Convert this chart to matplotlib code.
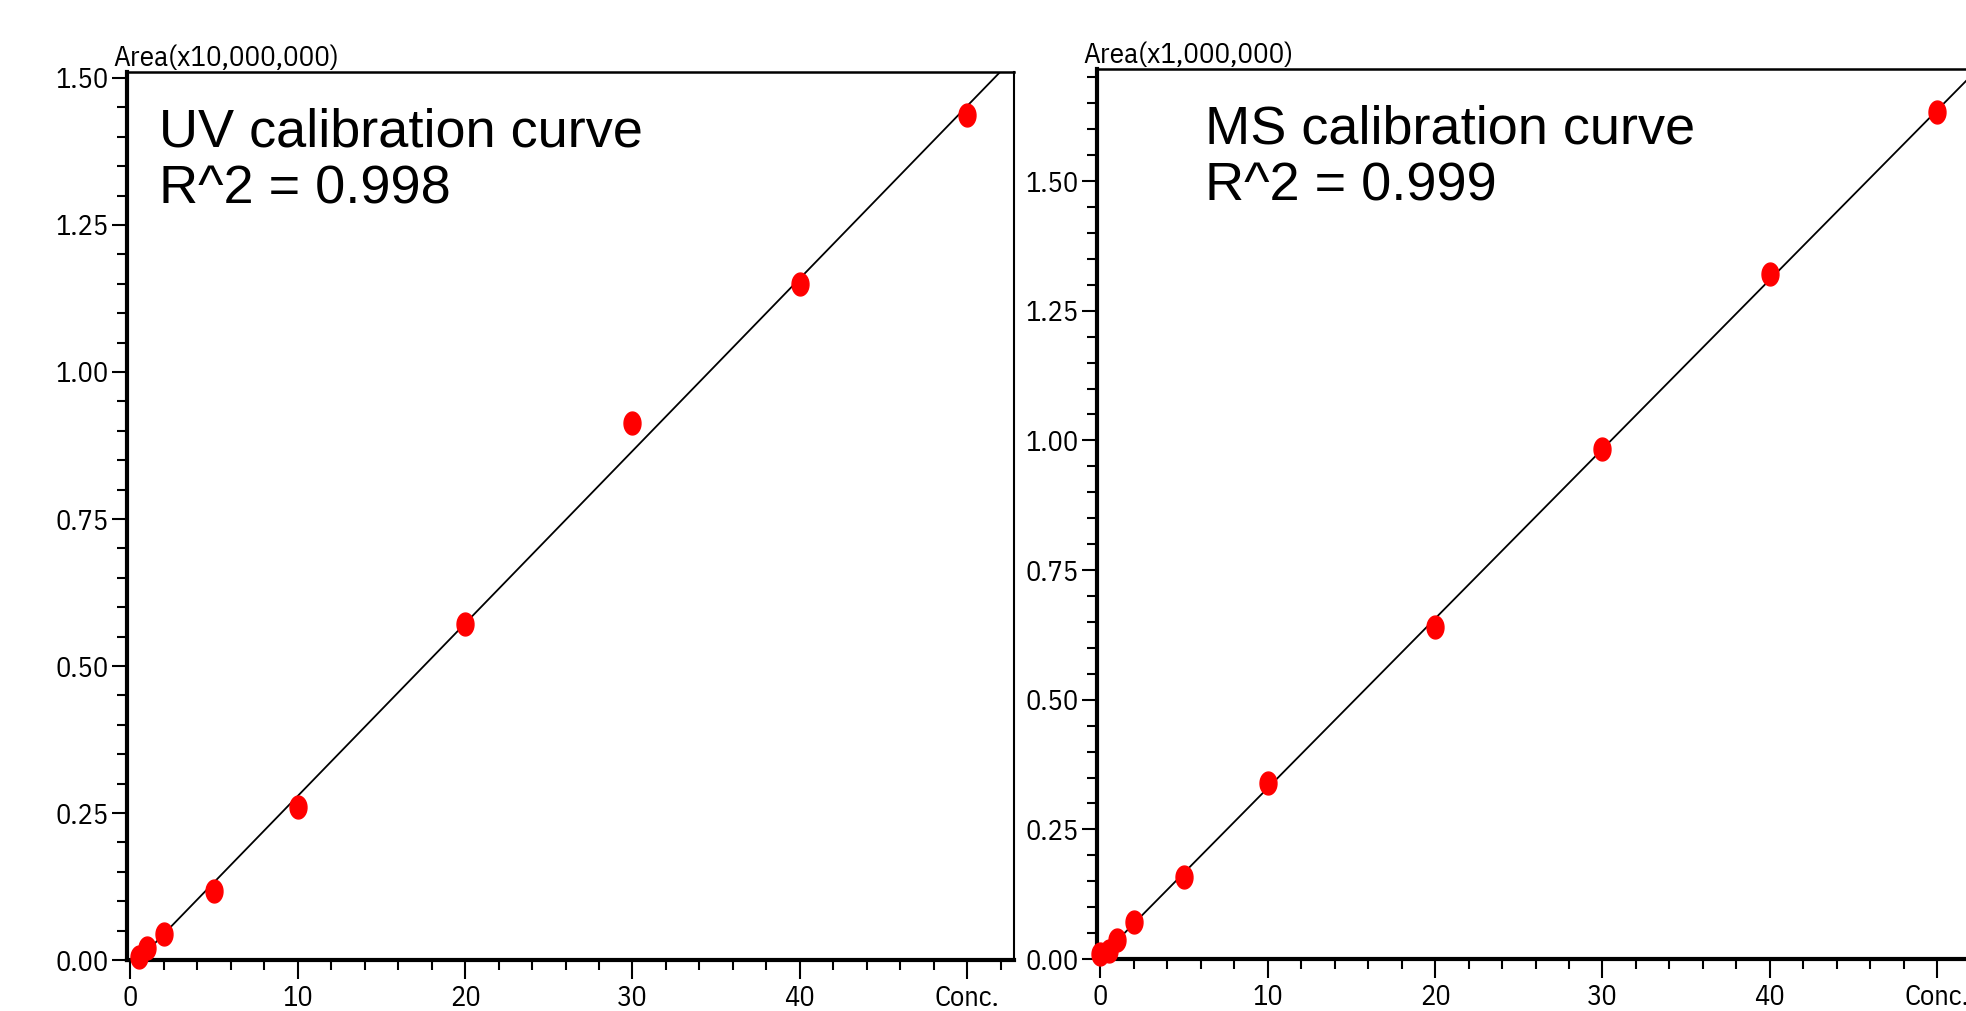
import numpy as np
import matplotlib.pyplot as plt

# Calibration data (Conc. vs peak area)
uv_conc = [0.5, 1, 2, 5, 10, 20, 30, 40, 50]
uv_area = [0.006, 0.020, 0.045, 0.118, 0.260, 0.571, 0.914, 1.149, 1.437]   # x10,000,000
ms_conc = [0, 0.5, 1, 2, 5, 10, 20, 30, 40, 50]
ms_area = [0.010, 0.016, 0.036, 0.071, 0.159, 0.339, 0.640, 0.984, 1.321, 1.633]  # x1,000,000

x_ticks = [0, 10, 20, 30, 40, 50]
x_tick_labels = ['0', '10', '20', '30', '40', 'Conc.']
y_ticks = [0.0, 0.25, 0.5, 0.75, 1.0, 1.25, 1.5]

tick_font = ['IBM Plex Sans Condensed', 'Carlito', 'DejaVu Sans']
big_font = ['Liberation Sans', 'DejaVu Sans']

# elliptical dot, taller than wide
t = np.linspace(0, 2 * np.pi, 60)
dot = np.column_stack([0.74 * np.cos(t), np.sin(t)])

fig = plt.figure(figsize=(19.66, 10.11), dpi=100)


def calib_panel(rect, conc, area, ytop, ylabel):
    ax = fig.add_axes(rect)
    # least-squares fit line
    k, b = np.polyfit(conc, area, 1)
    xs = np.array([0, 56])
    ax.plot(xs, k * xs + b, color='black', lw=1.3, zorder=2)
    ax.plot(conc, area, linestyle='none', marker=dot, markersize=16.5,
            color='#ff0000', mec='#ff0000', zorder=5, clip_on=False)

    ax.set_xlim(-0.2, 52.8)
    ax.set_ylim(0, ytop)
    ax.set_xticks(x_ticks)
    ax.set_xticklabels(x_tick_labels)
    ax.set_xticks(np.arange(0, 53, 2), minor=True)
    ax.set_yticks(y_ticks)
    ax.set_yticklabels([f'{v:.2f}' for v in y_ticks])
    ax.set_yticks(np.arange(0, ytop, 0.05), minor=True)

    for lab in ax.get_xticklabels() + ax.get_yticklabels():
        lab.set_family(tick_font)
        lab.set_fontsize(20.5)
    ax.tick_params(axis='y', which='major', length=11, width=1.5, pad=2)
    ax.tick_params(axis='y', which='minor', length=7, width=1.5)
    ax.tick_params(axis='x', which='major', length=14, width=1.5, pad=4)
    ax.tick_params(axis='x', which='minor', length=7, width=1.5)

    ax.spines['left'].set_linewidth(3)
    ax.spines['bottom'].set_linewidth(3)
    ax.spines['top'].set_linewidth(1.8)
    ax.spines['right'].set_linewidth(1.5)

    ax.text(-0.015, 1.0, ylabel, transform=ax.transAxes, ha='left', va='bottom',
            fontsize=21, family=tick_font)
    return ax


ax1 = calib_panel([0.0646, 0.0504, 0.4512, 0.8783], uv_conc, uv_area, 1.51,
                  'Area(x10,000,000)')
ax1.text(0.036, 0.96, 'UV calibration curve\nR^2 = 0.998', transform=ax1.transAxes,
         ha='left', va='top', fontsize=39, family=big_font, linespacing=1.18)

ax2 = calib_panel([0.558, 0.0514, 0.4512, 0.8803], ms_conc, ms_area, 1.716,
                  'Area(x1,000,000)')
ax2.text(0.122, 0.96, 'MS calibration curve\nR^2 = 0.999', transform=ax2.transAxes,
         ha='left', va='top', fontsize=39, family=big_font, linespacing=1.18)

fig.savefig('out.png', dpi=100)
